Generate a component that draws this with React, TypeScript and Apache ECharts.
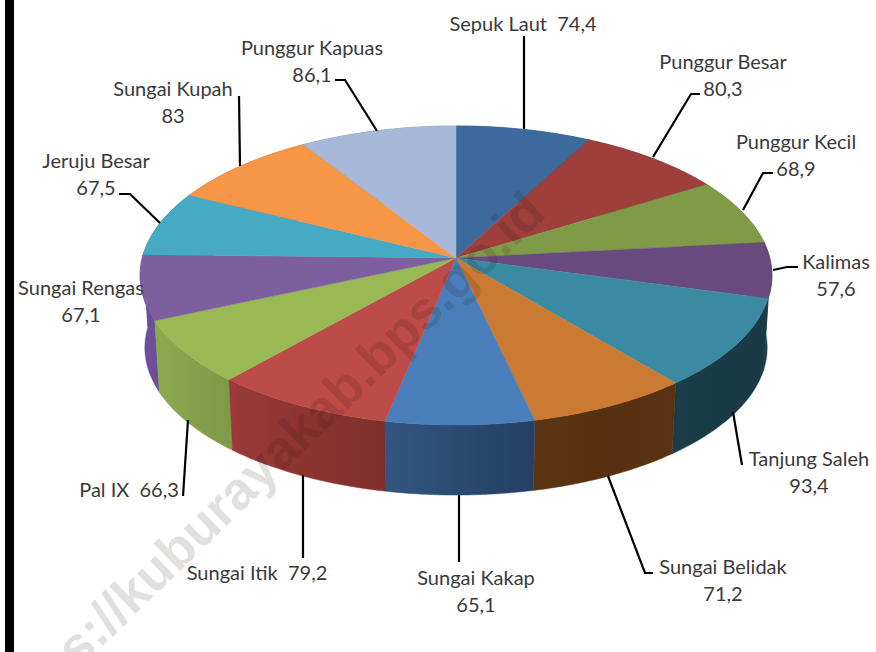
import React, { useEffect, useRef } from "react";
import * as echarts from "echarts";

const names = ["Sepuk Laut", "Punggur Besar", "Punggur Kecil", "Kalimas", "Tanjung Saleh", "Sungai Belidak", "Sungai Kakap", "Sungai Itik", "Pal IX", "Sungai Rengas", "Jeruju Besar", "Sungai Kupah", "Punggur Kapuas"];
const values = [74.4, 80.3, 68.9, 57.6, 93.4, 71.2, 65.1, 79.2, 66.3, 67.1, 67.5, 83, 86.1];
const valueLabels = ["74,4", "80,3", "68,9", "57,6", "93,4", "71,2", "65,1", "79,2", "66,3", "67,1", "67,5", "83", "86,1"];
const topColors = ["#3d6a9c", "#9e3f3c", "#7f9b48", "#694a7f", "#3a8aa3", "#cb7a33", "#4a7ebb", "#bd4b48", "#98b954", "#7d5fa0", "#46aac5", "#f79646", "#a7b9d8"];
const wallColors = [
  ["#2b4a70", "#2b4a70", "#2b4a70"], ["#6f2c2a", "#6f2c2a", "#6f2c2a"], ["#596d33", "#596d33", "#596d33"], ["#1f3c4a", "#1f3c4a", "#1f3c4a"],
  ["#1b3d4a", "#193a47", "#1a3a46"], ["#5c3412", "#57310f", "#5a3312"], ["#335680", "#2b4a72", "#243f62"], ["#9c3b39", "#8b3331", "#7f2f2d"],
  ["#8bab4e", "#86a04a", "#7e9a46"], ["#6b4f9a", "#6b4f9a", "#6b4f9a"], ["#337a8d", "#337a8d", "#337a8d"], ["#b06a30", "#b06a30", "#b06a30"], ["#76839a", "#76839a", "#76839a"],
];
// Whether the value shares the name's line
const oneLine = [true, false, false, false, false, false, false, true, true, false, false, false, false];
const labelAt = [[523, 23], [723, 61], [796, 141], [836, 261], [809, 458], [723, 566], [476, 577], [257, 572], [129, 489], [81, 287], [96, 160], [173, 88], [312, 47]];
const leaders = [
  [[524, 36], [524, 129]],
  [[653, 157], [691, 94], [700, 94]],
  [[743, 210], [763, 173], [773, 173]],
  [[773, 270], [787, 267], [798, 267]],
  [[733, 412], [742, 465]],
  [[608, 476], [645, 573], [653, 573]],
  [[459, 495], [459, 562]],
  [[303, 475], [303, 558]],
  [[188, 420], [183, 496]],
  [],
  [[160, 223], [130, 194], [119, 194]],
  [[240, 166], [239, 96]],
  [[377, 131], [345, 80], [335, 80]],
];
const watermark = ["https://kuburayakab.bps.go.id"];

const total = values.reduce((s, v) => s + v, 0);
const cum: number[] = [];
values.reduce((s, v, i) => ((cum[i] = s), s + v), 0);

const K = 0.117;
const TOP = { cx: 456, cy: 258, a: 313.8, b: 147.5 };
const BOT = { cx: 456, cy: 330.5, a: 309, b: 145.3 };
const project = (p: typeof TOP, t: number): number[] => {
  const X = Math.sin(t), Y = -Math.cos(t), w = 1 - K * Y;
  return [p.cx + (p.a * X) / w, p.cy + (p.b * Y) / w];
};
const arc = (p: typeof TOP, a0: number, a1: number) => {
  const n = 48, pts: number[][] = [];
  for (let i = 0; i <= n; i++) pts.push(project(p, a0 + ((a1 - a0) * i) / n));
  return pts;
};
const range = (i: number, v: number) => {
  const a0 = (cum[i] / total) * Math.PI * 2;
  return [a0, a0 + (v / total) * Math.PI * 2];
};

const FONT = "Lato";
const SIZE = 20;
const INK = "#3a3a3a";

export default function App() {
  const ref = useRef<HTMLDivElement>(null);
  useEffect(() => {
    const chart = echarts.init(ref.current!, null, { renderer: "svg" });
    const data = names.map((name, i) => ({ name, value: values[i] }));
    const labelStyle = (text: string) => ({ text, font: `${SIZE}px ${FONT}`, fill: INK, textAlign: "center", textVerticalAlign: "middle" });
    chart.setOption({
      animation: false,
      backgroundColor: "#ffffff",
      graphic: [
        { type: "rect", z: 1, shape: { x: 5, y: 0, width: 9, height: 652 }, style: { fill: "#000" } },
      ],
      series: [
        {
          type: "custom", coordinateSystem: "none", z: 2, data,
          renderItem: (params: any, api: any) => {
            const i = params.dataIndex;
            const [a0, a1] = range(i, api.value(0));
            const t = arc(TOP, a0, a1), b = arc(BOT, a0, a1);
            const mid = (a0 + a1) / 2;
            const c = wallColors[i];
            const fill = new echarts.graphic.LinearGradient(0, 0, 1, 0, [
              { offset: 0, color: c[0] }, { offset: 0.5, color: c[1] }, { offset: 1, color: c[2] },
            ]);
            return {
              type: "polygon", z2: Math.round(-Math.cos(mid) * 50) + 50,
              shape: { points: [...t, ...b.reverse()] },
              style: { fill, stroke: c[1], lineWidth: 0.5 },
            };
          },
        },
        {
          type: "custom", coordinateSystem: "none", z: 3, data,
          renderItem: (params: any, api: any) => {
            const i = params.dataIndex;
            const [a0, a1] = range(i, api.value(0));
            return {
              type: "polygon",
              shape: { points: [[TOP.cx, TOP.cy], ...arc(TOP, a0, a1)] },
              style: { fill: topColors[i], stroke: topColors[i], lineWidth: 0.4 },
            };
          },
        },
        {
          type: "custom", coordinateSystem: "none", z: 4, data: [0], silent: true,
          renderItem: () => ({
            type: "text", x: 535, y: 202, rotation: (44 * Math.PI) / 180,
            style: { text: watermark[0], fill: "rgba(20,15,10,0.13)", font: "bold 53px 'Liberation Sans'", textAlign: "right", textVerticalAlign: "middle" },
          }),
        },
        {
          type: "custom", coordinateSystem: "none", z: 5, data,
          renderItem: (params: any) => {
            const i = params.dataIndex;
            const [x, y] = labelAt[i];
            const children: any[] = [];
            if (leaders[i].length) {
              children.push({ type: "polyline", shape: { points: leaders[i] }, style: { stroke: "#000", lineWidth: 2.2, fill: "none" } });
            }
            if (oneLine[i]) {
              children.push({ type: "text", x, y, style: labelStyle(names[i] + "  " + valueLabels[i]) });
            } else {
              children.push({ type: "text", x, y, style: labelStyle(names[i]) });
              children.push({ type: "text", x, y: y + 26.5, style: labelStyle(valueLabels[i]) });
            }
            return { type: "group", children };
          },
        },
      ],
    });
    return () => chart.dispose();
  }, []);
  return <div ref={ref} style={{ position: "fixed", left: 0, top: 0, width: 876, height: 652 }} />;
}
